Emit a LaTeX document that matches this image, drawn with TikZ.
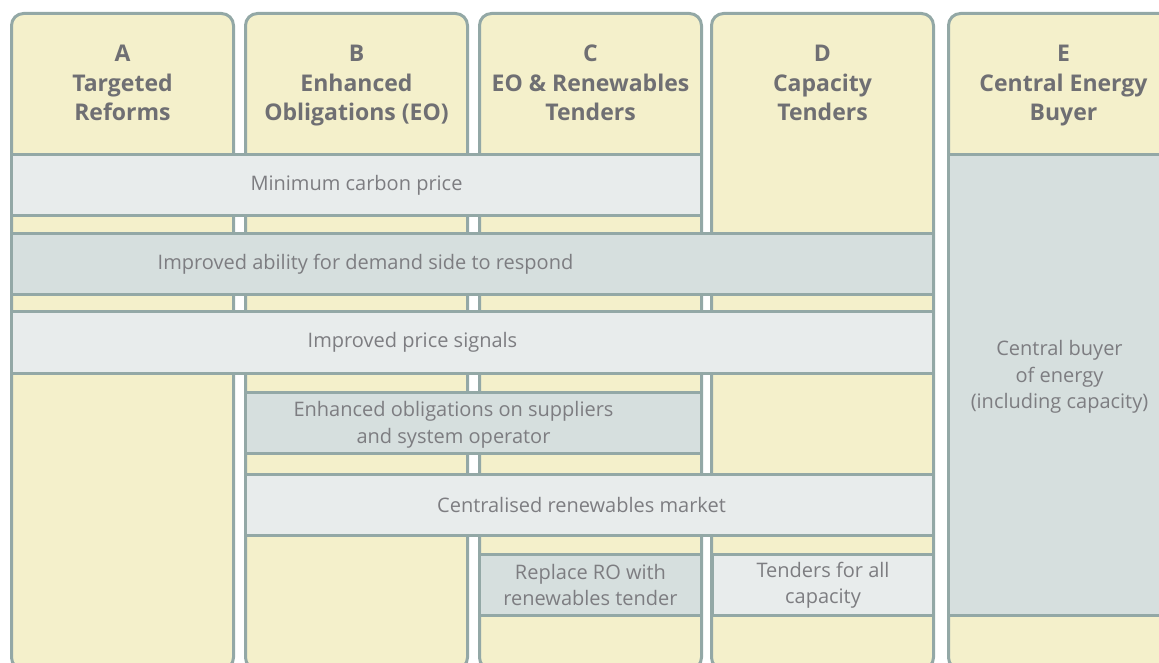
\documentclass[tikz,border=0pt]{standalone}
\usepackage{fontspec}
\setmainfont{Open Sans}
\usepackage{tikz}

\definecolor{cream}{HTML}{F4F0CB}
\definecolor{rim}{HTML}{93A8A6}
\definecolor{pale}{HTML}{E8ECEC}
\definecolor{sage}{HTML}{D6DFDE}
\definecolor{ink}{HTML}{6F6F73}
\definecolor{softink}{HTML}{7D7D81}

\tikzset{
	panel/.style={draw=rim, fill=cream, line width=3pt, rounded corners=12pt, anchor=north west, minimum height=656pt, inner sep=0pt},
	head/.style={anchor=north, align=center, text=ink, inner sep=0pt, font=\fontsize{23}{29.5}\selectfont\bfseries},
	note/.style={align=center, text=softink, inner sep=0pt, font=\fontsize{20}{26.5}\selectfont},
	bar/.style={note, draw=rim, line width=3pt, anchor=north west, minimum height=61pt},
	lightbar/.style={bar, fill=pale},
	darkbar/.style={bar, fill=sage}
}

\begin{document}
\begin{tikzpicture}[x=1pt, y=-1pt]
	\useasboundingbox (0,0) rectangle (1159,663);

	\node[panel, minimum width=222pt] (A) at (10,12) {};
	\node[panel, minimum width=222pt] (B) at (244,12) {};
	\node[panel, minimum width=222pt] (C) at (478,12) {};
	\node[panel, minimum width=222pt] (D) at (710,12) {};
	\node[panel, minimum width=230pt] (E) at (947,12) {};

	\node[head] (hA) at ([yshift=-33pt]A.north) {A\\Targeted\\Reforms};
	\node[head] (hB) at ([yshift=-33pt]B.north) {B\\Enhanced\\Obligations (EO)};
	\node[head] (hC) at ([yshift=-33pt]C.north) {C\\EO \& Renewables\\Tenders};
	\node[head] (hD) at ([yshift=-33pt]D.north) {D\\Capacity\\Tenders};
	\node[head] (hE) at ([yshift=-33pt]E.north) {E\\Central Energy\\Buyer};

	\node[lightbar, minimum width=690pt] (1) at (10,153) {Minimum carbon price};
	\node[darkbar, minimum width=922pt,
		label={[note, xshift=-107pt]center:Improved ability for demand side to respond}] (2) at (10,232) {};
	\node[lightbar, minimum width=922pt, minimum height=62pt,
		label={[note, xshift=-60pt]center:Improved price signals}] (3) at (10,310) {};
	\node[darkbar, minimum width=456pt,
		label={[note, xshift=-20pt, yshift=-2pt]center:Enhanced obligations on suppliers\\and system operator}] (4) at (244,391) {};
	\node[lightbar, minimum width=688pt,
		label={[note, xshift=-8pt]center:Centralised renewables market}] (5) at (244,473) {};
	\node[darkbar, minimum width=222pt] (6) at (478,553) {Replace RO with\\renewables tender};
	\node[lightbar, minimum width=221pt] (7) at (711,553) {Tenders for all\\capacity};
	\node[darkbar, minimum width=222pt, minimum height=461pt,
		label={[note, yshift=8pt]center:Central buyer\\of energy\\(including capacity)}] (8) at (947,153) {};
\end{tikzpicture}
\end{document}
